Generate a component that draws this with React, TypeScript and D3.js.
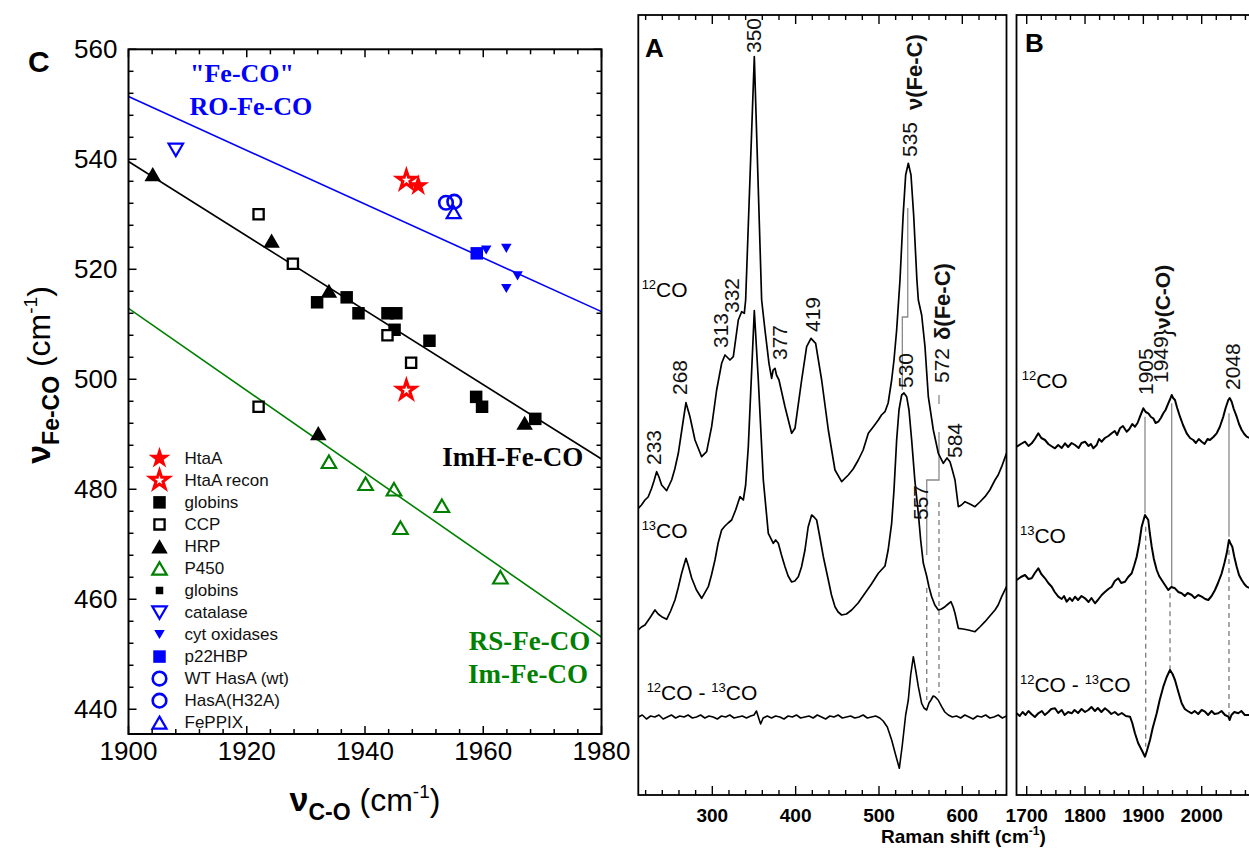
import React from 'react';
import * as d3 from 'd3';

type P = [number, number];

// ---------------- Panel C data (nu C-O, nu Fe-CO) ----------------
const htaA: P[] = [[1949.0, 535.2]];
const htaARecon: P[] = [[1947.0, 536.2], [1947.0, 498.0]];
const globins: P[] = [[1931.9, 514.0], [1936.9, 514.9], [1938.9, 512.0], [1943.8, 512.0], [1945.3, 512.0], [1945.0, 509.0], [1950.9, 507.0], [1958.8, 496.8], [1959.8, 495.0], [1968.8, 492.8]];
const ccp: P[] = [[1922.0, 530.0], [1927.8, 521.0], [1943.8, 508.0], [1922.0, 495.0], [1947.8, 503.0]];
const hrp: P[] = [[1904.1, 537.3], [1924.2, 525.2], [1933.9, 516.1], [1932.1, 490.2], [1967.0, 492.1]];
const p450: P[] = [[1933.9, 485.0], [1940.1, 481.0], [1944.9, 480.0], [1946.0, 473.0], [1953.0, 477.0], [1962.9, 464.0]];
const globinsSmall: P[] = [];
const catalase: P[] = [[1908.0, 541.7]];
const cytOx: P[] = [[1960.5, 523.5], [1963.9, 523.8], [1963.9, 516.5], [1965.8, 518.8]];
const p22hbp: P[] = [[1958.9, 522.9]];
const hasAwt: P[] = [[1953.7, 532.1]];
const hasAH32A: P[] = [[1955.1, 532.3]];
const fePPIX: P[] = [[1955.0, 530.4]];

const fitRO: P[] = [[1900, 551.4], [1980, 512.3]];
const fitImH: P[] = [[1900, 539.6], [1980, 485.5]];
const fitRS: P[] = [[1900, 512.9], [1980, 453.1]];

const cXTicks = [1900, 1920, 1940, 1960, 1980];
const cYTicks = [440, 460, 480, 500, 520, 540, 560];

// ---------------- Panel A spectra (Raman shift, intensity a.u.) ----------------
const a12CO: P[] = [[211.2,286.7],[215,290],[219.2,295],[223,298],[227.2,306.7],[230,314],[233.2,323.3],[236,318],[239.2,310],[245.2,304.3],[251.2,315],[255,326],[259.2,341.7],[265.2,375],[268.4,392.3],[273.2,378.3],[279.2,355],[287.2,338.3],[293.2,343.3],[299.2,368.3],[305.2,405],[311.2,431.7],[315.2,440],[321.2,435],[325.2,438.3],[331.2,475],[335.2,483.3],[338.4,481.7],[340,495],[350.4,738.3],[359.2,495],[363.2,465],[368,431.7],[371.2,416.7],[373,425],[375.2,426.7],[377,420],[380,415],[387.2,388.3],[395.2,361.7],[399.2,366.7],[407.2,415],[413.2,448.3],[418.4,456.7],[424,451.7],[431.2,415],[439.2,365],[447.2,325],[455.2,313.3],[463.2,320],[469,326],[475.2,335],[481,345],[487.2,361.7],[493,368],[499.2,375],[503,380],[507.2,383.3],[511,392],[515.2,415],[518,435],[521.2,465],[525.2,515],[529,580],[532,620],[535.2,631.7],[538.4,620],[541.6,580],[545.5,515],[547.2,495],[551.2,480],[555.2,448.3],[559.2,398.3],[565.2,365],[571.2,341.7],[577.2,331.7],[581.6,337],[585.2,333.3],[588,325],[591.2,315],[595.2,288.3],[599,290],[603.2,293.3],[609,291],[615.2,288.3],[621,293],[627.2,298.3],[633,305],[639.2,315],[643,320],[647.2,328.3],[653,341.7]];
const a13CO: P[] = [[211.2,165],[215,168],[219.2,170],[225,177],[231.2,185],[235,181],[239.2,178.3],[245.2,175.7],[250,184],[255.2,195],[259,207],[263.2,221.7],[268.4,236.7],[271,230],[275.2,217],[281,205],[287.2,196.7],[295.2,208.3],[299,220],[303.2,235],[307,252],[311.2,265],[315.2,269],[319,272],[323.2,275],[328,285],[333.2,298.3],[337.2,295],[340,310],[343.2,348.3],[350.4,484.3],[355.2,415],[361.2,315],[367.2,261.7],[373.2,251.7],[376,255],[379.2,251.7],[383,240],[387.2,228.3],[391,219],[395.2,213],[399,214],[403.2,218.3],[407,228],[411.2,245],[415,268],[419.2,280],[422,278],[425.2,275],[429,258],[433.2,238.3],[439.2,215],[443,200],[447.2,188.3],[451,183],[455.2,180],[461,181],[467.2,185],[475,192],[483.2,201.7],[491,211],[499.2,221.7],[507.2,229],[511,245],[515.2,271.7],[518,305],[521.2,355],[524,385],[527.2,400],[530,402],[533.2,398.3],[536,385],[539.2,355],[543,315],[547.2,281.7],[550,255],[553.2,231.7],[557.2,219],[560,208],[563.2,198.3],[567,190],[571.2,185],[575,186],[579.2,188.3],[583,191],[586.4,193.3],[589,188],[591.2,181.7],[595.2,166.7],[601,166],[607.2,165],[615.2,163.3],[621,168],[627.2,173.3],[633,179],[639.2,185],[643,190],[647.2,198.3],[653,208.3]];
const aDiff: P[] = [[211.2,78],[216,80],[221,76],[226,79],[231,78],[236,80],[241,76],[246,78],[251,80],[256,77],[261,79],[266,78],[271,80],[276,77],[281,78],[286,80],[291,77],[296,79],[301,78],[306,76],[311,79],[316,78],[321,80],[326,77],[331,78],[336,79],[341,77],[346,79],[350,80],[353,84],[356,76],[358,71],[361,77],[366,79],[371,77],[376,79],[381,78],[386,76],[391,79],[396,78],[401,80],[406,77],[411,78],[416,79],[421,77],[426,80],[431,78],[436,76],[441,79],[446,78],[451,80],[456,77],[461,78],[466,79],[471,77],[476,78],[481,80],[486,77],[491,78],[496,79],[501,77],[505,74],[510,68],[515.2,55],[520,40],[524.4,26.7],[528,50],[532,80],[535.2,95],[538,120],[541.2,138.3],[544,125],[547.2,108.3],[551.2,91.7],[554,87],[557.2,85],[560,92],[562.4,95],[565,99],[567.2,98.3],[571,95],[575.2,88.3],[579,83],[583.2,80],[588,78],[593,79],[598,77],[603,80],[608,78],[613,76],[618,79],[623,78],[628,80],[633,77],[638,78],[643,80],[648,77],[653,79]];

const aConn535: P[] = [[534.5, 587], [534.5, 478], [528, 478], [528, 405]];
const aConn572: P[] = [[572, 363], [572, 315], [557.3, 315], [557.3, 240]];
const aTick572: P[] = [[572, 400], [572, 391]];
const aDash557: P[] = [[557.3, 207], [557.3, 95]];
const aDash572: P[] = [[572, 293], [572, 102]];

const aXTicks = [300, 400, 500, 600];

const aPeakLabels = [
  { t: '233', x: 230, y: 330 },
  { t: '268', x: 261.2, y: 400 },
  { t: '313', x: 310.4, y: 447 },
  { t: '332', x: 323, y: 482 },
  { t: '350', x: 350, y: 742 },
  { t: '377', x: 381.2, y: 435 },
  { t: '419', x: 420.2, y: 463 },
  { t: '530', x: 531.8, y: 407 },
  { t: '535', x: 537.2, y: 638 },
  { t: '572', x: 575.6, y: 412 },
  { t: '584', x: 591.2, y: 337 },
  { t: '557', x: 549.5, y: 275 },
];

// ---------------- Panel B spectra ----------------
const b12CO: P[] = [[1682.9,348.3],[1690,351],[1697.1,353.3],[1703,349],[1708.6,351.7],[1714,356],[1719.9,361.7],[1725,357],[1731.4,355],[1737,351],[1742,349],[1748.5,346.7],[1754,350],[1760,347],[1765.7,351.7],[1771,348],[1777,352],[1782.8,350],[1789,347],[1794,352],[1800,353.3],[1806,349],[1810,351],[1814.2,346.7],[1820,350],[1824,356],[1828.6,353.3],[1834,357],[1840,359],[1845.7,361.7],[1851,364],[1855,360],[1859.9,366.7],[1865,369],[1871.4,363.3],[1876,366],[1881,371],[1885.6,368.3],[1890,372],[1894.2,378.3],[1899.9,386.7],[1904,383],[1908.5,381.7],[1913,378],[1917,376.7],[1921,372],[1925.6,373.3],[1930,377],[1934.2,381.7],[1938,385],[1942.7,391.7],[1946,396],[1948.6,400],[1951,397],[1954.2,395],[1958,387],[1962.8,378.3],[1968,370],[1974.3,361.7],[1980,357],[1985.6,355],[1990,352],[1995,356],[2000,353.3],[2005,351],[2010,356],[2014.2,355],[2020,358],[2025.7,361.7],[2031,368],[2037,378.3],[2041,387],[2045.6,395],[2048,397],[2051.4,393.3],[2055,386],[2060,378.3],[2064,371],[2068.6,365],[2073,361],[2077.1,358.3],[2082,357],[2090,355],[2103,354]];
const b13CO: P[] = [[1682.9,215],[1690,218],[1697.1,220],[1703,216],[1708.6,216.7],[1714,222],[1719.9,226.7],[1725,221],[1731.4,216.7],[1737,212],[1742.9,208.3],[1748,203],[1754.2,198.3],[1760,196],[1764,199],[1768.6,193.3],[1774,197],[1778,194],[1782.8,198.3],[1788,195],[1794,199],[1800,196.7],[1806,193],[1811,197],[1817.1,191.7],[1822,195],[1828.6,200],[1834,203],[1840,206],[1845.7,208.3],[1851,214],[1857,216.7],[1862,212],[1868.5,213.3],[1874,218],[1880,221.7],[1884,229],[1888.6,238.3],[1893,252],[1897.1,268.3],[1902.8,280],[1908.4,275],[1911,262],[1914.3,248.3],[1918,236],[1922.9,225],[1927,219],[1931.4,215],[1937,210],[1942.7,205],[1948,208],[1954.2,206.7],[1960,203],[1965.7,201.7],[1971,199],[1976,202],[1982.9,200],[1988,197],[1994,200],[2000,198.3],[2006,196],[2011.3,195],[2017,199],[2022.8,205],[2028,212],[2034.3,221.7],[2039,232],[2042.9,241.7],[2046.8,255],[2049,252],[2052.5,248.3],[2056,238],[2060,228.3],[2064,220],[2068.6,215],[2073,211],[2077.1,208.3],[2082,207],[2090,205],[2103,204]];
const bDiff: P[] = [[1682.9,81.7],[1688,79],[1693,83],[1698,80],[1703,84],[1708,81],[1714,78],[1719.9,81.7],[1726,84],[1731,80],[1737,83],[1742,86],[1748.5,86.7],[1754,82],[1760,85],[1765,80],[1771,83],[1777.1,81.7],[1782,85],[1788,82],[1794,86],[1800,83],[1805.6,85],[1811,88],[1817,84],[1822,87],[1828,83],[1834.2,86.7],[1840,84],[1845,81],[1851,83],[1857,80],[1863,82],[1870,79],[1877.1,78.3],[1881,72],[1885.6,61.7],[1891,52],[1897.1,45],[1902.8,38.3],[1906,44],[1911.4,55],[1916,67],[1922.9,81.7],[1928,95],[1934.2,108.3],[1940,118],[1945.7,125],[1950,121],[1954.2,115],[1960,103],[1965.7,91.7],[1971,86],[1976,84],[1982.9,81.7],[1988,84],[1994,81],[2000,85],[2005.7,83.3],[2011,80],[2017,84],[2022,81],[2028.5,81.7],[2034,84],[2040,80],[2045.6,78.3],[2048,75],[2051,80],[2056,83],[2062.7,81.7],[2068,84],[2074,80],[2081,80],[2090,82],[2103,81]];

const bSolid: P[][] = [
  [[1902.8, 378.3], [1902.8, 281.7]],
  [[1948.6, 391.7], [1948.6, 208.3]],
  [[2046.8, 381.7], [2046.8, 258.3]],
];
const bDash: P[][] = [
  [[1904, 268.3], [1904, 48.3]],
  [[1945.7, 201.7], [1945.7, 121.7]],
  [[2046.8, 245], [2046.8, 75]],
];
const bXTicks = [1700, 1800, 1900, 2000];
const bPeakLabels = [
  { t: '1905', x: 1904.2, y: 400 },
  { t: '1949', x: 1929.4, y: 412 },
  { t: '2048', x: 2052.8, y: 405 },
];

// ---------------- styles ----------------
const SANS = '"Liberation Sans", Arial, Helvetica, sans-serif';
const SERIF = '"Liberation Serif", "Times New Roman", serif';
const RED = '#ff0000';
const BLUE = '#0000ff';
const GREEN = '#008000';

type MS = { shape: string; s: number; fill: string; stroke?: string; sw?: number };
const seriesC: { label: string; data: P[]; m: MS }[] = [
  { label: 'HtaA', data: htaA, m: { shape: 'star', s: 11.5, fill: RED } },
  { label: 'HtaA recon', data: htaARecon, m: { shape: 'star', s: 9.6, fill: '#fff', stroke: RED, sw: 3 } },
  { label: 'globins', data: globins, m: { shape: 'square', s: 12.5, fill: '#000' } },
  { label: 'CCP', data: ccp, m: { shape: 'square', s: 10.2, fill: '#fff', stroke: '#000', sw: 2.3 } },
  { label: 'HRP', data: hrp, m: { shape: 'tri', s: 16.5, fill: '#000' } },
  { label: 'P450', data: p450, m: { shape: 'tri', s: 14.5, fill: 'none', stroke: GREEN, sw: 2.2 } },
  { label: 'globins', data: globinsSmall, m: { shape: 'square', s: 7.5, fill: '#000' } },
  { label: 'catalase', data: catalase, m: { shape: 'triDown', s: 14.5, fill: 'none', stroke: BLUE, sw: 2.2 } },
  { label: 'cyt oxidases', data: cytOx, m: { shape: 'triDown', s: 10.5, fill: BLUE } },
  { label: 'p22HBP', data: p22hbp, m: { shape: 'square', s: 12.5, fill: BLUE } },
  { label: 'WT HasA (wt)', data: hasAwt, m: { shape: 'circle', s: 6.8, fill: 'none', stroke: BLUE, sw: 2.6 } },
  { label: 'HasA(H32A)', data: hasAH32A, m: { shape: 'circle', s: 6.8, fill: 'none', stroke: BLUE, sw: 2.6 } },
  { label: 'FePPIX', data: fePPIX, m: { shape: 'tri', s: 14, fill: 'none', stroke: BLUE, sw: 2.2 } },
];

function markerPath(shape: string, s: number): string {
  switch (shape) {
    case 'star':
      return d3.symbol().type(d3.symbolStar).size((s * s) / 0.8908130915)() as string;
    case 'square':
      return `M${-s / 2},${-s / 2}H${s / 2}V${s / 2}H${-s / 2}Z`;
    case 'tri': {
      const h = s * 0.86;
      return `M0,${-h / 2}L${s / 2},${h / 2}L${-s / 2},${h / 2}Z`;
    }
    case 'triDown': {
      const h = s * 0.86;
      return `M0,${h / 2}L${s / 2},${-h / 2}L${-s / 2},${-h / 2}Z`;
    }
    default:
      return `M${s},0A${s},${s} 0 1,1 ${-s},0A${s},${s} 0 1,1 ${s},0Z`;
  }
}

// ---------------- geometry ----------------
const cL = 128.5, cR = 601.5, cT = 49.3, cB = 734;
const xC = d3.scaleLinear().domain([1900, 1980]).range([cL, cR]);
const yC = d3.scaleLinear().domain([435.5, 560]).range([cB, cT]);

const sT = 15, sB = 795;
const aL = 638.3, aR = 1006.5;
const xA = d3.scaleLinear().domain([211.2, 653]).range([aL, aR]);
const bL = 1016.5, bR = 1262;
const xB = d3.scaleLinear().domain([1682.5, 2103.4]).range([bL, bR]);
const yS = d3.scaleLinear().domain([0, 780]).range([sB, sT]);

function Iso({ x, y, big, small, sizeBig = 21, sizeSmall = 13 }: any) {
  return (
    <text x={x} y={y} fontFamily={SANS} fill="#000">
      <tspan fontSize={sizeSmall} dy={-8}>{small}</tspan>
      <tspan fontSize={sizeBig} dy={8}>{big}</tspan>
    </text>
  );
}

export default function App() {
  const lineC = d3.line<P>().x(d => xC(d[0])).y(d => yC(d[1]));
  const lineA = d3.line<P>().x(d => xA(d[0])).y(d => yS(d[1]));
  const lineB = d3.line<P>().x(d => xB(d[0])).y(d => yS(d[1]));

  const cxMinor = d3.range(1900, 1980.01, 4);
  const cyMinor = d3.range(440, 560.01, 4);
  const aMinor = d3.range(220, 653, 20);
  const bMinor = d3.range(1700, 2103, 25);

  const legX = cL + 31, legY0 = 458.3, legDy = 22.03;

  return (
    <svg width={1249} height={848} style={{ position: 'absolute', left: 0, top: 0, background: '#fff' }}>
      <defs>
        <clipPath id="clipC"><rect x={cL} y={cT} width={cR - cL} height={cB - cT} /></clipPath>
        <clipPath id="clipA"><rect x={aL} y={sT} width={aR - aL} height={sB - sT} /></clipPath>
        <clipPath id="clipB"><rect x={bL} y={sT} width={bR - bL} height={sB - sT} /></clipPath>
      </defs>
      <rect x={0} y={0} width={1249} height={848} fill="#fff" />

      {/* ================= Panel C ================= */}
      <g clipPath="url(#clipC)">
        <path d={lineC(fitRO) as string} stroke={BLUE} strokeWidth={1.6} fill="none" />
        <path d={lineC(fitImH) as string} stroke="#000" strokeWidth={1.6} fill="none" />
        <path d={lineC(fitRS) as string} stroke={GREEN} strokeWidth={1.6} fill="none" />
      </g>
      {seriesC.map((se, i) => (
        <g key={'s' + i}>
          {se.data.map((d, j) => (
            <path key={j} d={markerPath(se.m.shape, se.m.s)} transform={`translate(${xC(d[0])},${yC(d[1])})`}
              fill={se.m.fill} stroke={se.m.stroke || 'none'} strokeWidth={se.m.sw || 0} strokeLinejoin="miter" />
          ))}
        </g>
      ))}
      {/* legend */}
      {seriesC.map((se, i) => (
        <g key={'l' + i} transform={`translate(${legX},${legY0 + i * legDy})`}>
          <path d={markerPath(se.m.shape, se.m.s)} fill={se.m.fill} stroke={se.m.stroke || 'none'} strokeWidth={se.m.sw || 0} />
          <text x={25} y={0} dominantBaseline="central" fontFamily={SANS} fontSize={17} fill="#111">{se.label}</text>
        </g>
      ))}
      {/* frame & ticks */}
      <rect x={cL} y={cT} width={cR - cL} height={cB - cT} fill="none" stroke="#000" strokeWidth={2} />
      {cxMinor.map(v => {
        const len = v % 20 === 0 ? 8 : 5;
        return (
          <g key={'cx' + v}>
            <line x1={xC(v)} x2={xC(v)} y1={cB} y2={cB - len} stroke="#000" strokeWidth={1.5} />
            <line x1={xC(v)} x2={xC(v)} y1={cT} y2={cT + len} stroke="#000" strokeWidth={1.5} />
          </g>
        );
      })}
      {cyMinor.map(v => {
        const len = v % 20 === 0 ? 8 : 5;
        return (
          <g key={'cy' + v}>
            <line x1={cL} x2={cL + len} y1={yC(v)} y2={yC(v)} stroke="#000" strokeWidth={1.5} />
            <line x1={cR} x2={cR - len} y1={yC(v)} y2={yC(v)} stroke="#000" strokeWidth={1.5} />
          </g>
        );
      })}
      {cXTicks.map(v => (
        <text key={'cxl' + v} x={xC(v)} y={cB + 17} textAnchor="middle" dominantBaseline="central" fontFamily={SANS} fontSize={26} fill="#000">{v}</text>
      ))}
      {cYTicks.map(v => (
        <text key={'cyl' + v} x={cL - 11} y={yC(v)} textAnchor="end" dominantBaseline="central" fontFamily={SANS} fontSize={26} fill="#000">{v}</text>
      ))}
      {/* axis titles */}
      <text x={(cL + cR) / 2} y={811} textAnchor="middle" fontFamily={SANS} fill="#000">
        <tspan fontSize={34} fontWeight="bold">ν</tspan>
        <tspan fontSize={23} fontWeight="bold" dy={9}>C-O</tspan>
        <tspan fontSize={32} dy={-9}> (cm</tspan>
        <tspan fontSize={19} dy={-13}>-1</tspan>
        <tspan fontSize={32} dy={13}>)</tspan>
      </text>
      <text transform={`translate(50, 375) rotate(-90)`} textAnchor="middle" fontFamily={SANS} fill="#000">
        <tspan fontSize={34} fontWeight="bold">ν</tspan>
        <tspan fontSize={23} fontWeight="bold" dy={9}>Fe-CO</tspan>
        <tspan fontSize={32} dy={-9}> (cm</tspan>
        <tspan fontSize={19} dy={-13}>-1</tspan>
        <tspan fontSize={32} dy={13}>)</tspan>
      </text>
      <text x={28} y={72} fontFamily={SANS} fontWeight="bold" fontSize={30} fill="#000">C</text>
      {/* in-plot annotations */}
      <text x={xC(1919.2)} y={yC(554.05)} textAnchor="middle" fontFamily={SERIF} fontWeight="bold" fontSize={26} fill={BLUE}>"Fe-CO"</text>
      <text x={xC(1920.7)} y={yC(548.0)} textAnchor="middle" fontFamily={SERIF} fontWeight="bold" fontSize={26} fill={BLUE}>RO-Fe-CO</text>
      <text x={xC(1976.9)} y={yC(484.2)} textAnchor="end" fontFamily={SERIF} fontWeight="bold" fontSize={27} fill="#000">ImH-Fe-CO</text>
      <text x={xC(1978.1)} y={yC(450.8)} textAnchor="end" fontFamily={SERIF} fontWeight="bold" fontSize={27} fill={GREEN}>RS-Fe-CO</text>
      <text x={xC(1977.7)} y={yC(444.8)} textAnchor="end" fontFamily={SERIF} fontWeight="bold" fontSize={27} fill={GREEN}>Im-Fe-CO</text>

      {/* ================= Panel A ================= */}
      <g clipPath="url(#clipA)">
        <path d={lineA(aConn535) as string} stroke="#8a8a8a" strokeWidth={1.3} fill="none" />
        <path d={lineA(aConn572) as string} stroke="#8a8a8a" strokeWidth={1.3} fill="none" />
        <path d={lineA(aTick572) as string} stroke="#8a8a8a" strokeWidth={1.3} fill="none" />
        <path d={lineA(aDash557) as string} stroke="#7a7a7a" strokeWidth={1.3} strokeDasharray="5,4" fill="none" />
        <path d={lineA(aDash572) as string} stroke="#7a7a7a" strokeWidth={1.3} strokeDasharray="5,4" fill="none" />
        <path d={lineA(a12CO) as string} stroke="#000" strokeWidth={1.7} fill="none" strokeLinejoin="round" />
        <path d={lineA(a13CO) as string} stroke="#000" strokeWidth={1.7} fill="none" strokeLinejoin="round" />
        <path d={lineA(aDiff) as string} stroke="#000" strokeWidth={1.6} fill="none" strokeLinejoin="round" />
      </g>
      <rect x={aL} y={sT} width={aR - aL} height={sB - sT} fill="none" stroke="#000" strokeWidth={1.8} />
      {aMinor.map(v => {
        const len = v % 100 === 0 ? 9 : 5;
        return (
          <g key={'ax' + v}>
            <line x1={xA(v)} x2={xA(v)} y1={sB} y2={sB - len} stroke="#000" strokeWidth={1.4} />
            <line x1={xA(v)} x2={xA(v)} y1={sT} y2={sT + len} stroke="#000" strokeWidth={1.4} />
          </g>
        );
      })}
      {aXTicks.map(v => (
        <text key={'axl' + v} x={xA(v)} y={815} textAnchor="middle" dominantBaseline="central" fontFamily={SANS} fontWeight="bold" fontSize={19} fill="#000">{v}</text>
      ))}
      <text x={xA(219.2)} y={yS(738)} fontFamily={SANS} fontWeight="bold" fontSize={26} fill="#000">A</text>
      <Iso x={xA(215.2)} y={yS(498)} small="12" big="CO" />
      <Iso x={xA(215.2)} y={yS(257)} small="13" big="CO" />
      <text x={xA(221.2)} y={yS(95)} fontFamily={SANS} fill="#000">
        <tspan fontSize={13} dy={-8}>12</tspan>
        <tspan fontSize={21} dy={8}>CO - </tspan>
        <tspan fontSize={13} dy={-8}>13</tspan>
        <tspan fontSize={21} dy={8}>CO</tspan>
      </text>
      {aPeakLabels.map((p, i) => (
        <text key={'ap' + i} transform={`translate(${xA(p.x)},${yS(p.y)}) rotate(-90)`} dominantBaseline="central"
          fontFamily={SANS} fontSize={21} fill="#111">{p.t}</text>
      ))}
      <text transform={`translate(${xA(542.2)},${yS(685)}) rotate(-90)`} dominantBaseline="central"
        fontFamily={SANS} fontWeight="bold" fontSize={22} fill="#111">ν(Fe-C)</text>
      <text transform={`translate(${xA(576.4)},${yS(455)}) rotate(-90)`} dominantBaseline="central"
        fontFamily={SANS} fontWeight="bold" fontSize={22} fill="#111">δ(Fe-C)</text>

      {/* ================= Panel B ================= */}
      <g clipPath="url(#clipB)">
        {bSolid.map((s, i) => <path key={'bs' + i} d={lineB(s) as string} stroke="#8a8a8a" strokeWidth={1.3} fill="none" />)}
        {bDash.map((s, i) => <path key={'bd' + i} d={lineB(s) as string} stroke="#7a7a7a" strokeWidth={1.3} strokeDasharray="5,4" fill="none" />)}
        <path d={lineB(b12CO) as string} stroke="#000" strokeWidth={2} fill="none" strokeLinejoin="round" />
        <path d={lineB(b13CO) as string} stroke="#000" strokeWidth={2} fill="none" strokeLinejoin="round" />
        <path d={lineB(bDiff) as string} stroke="#000" strokeWidth={2} fill="none" strokeLinejoin="round" />
      </g>
      <rect x={bL} y={sT} width={bR - bL} height={sB - sT} fill="none" stroke="#000" strokeWidth={1.8} />
      {bMinor.map(v => {
        const len = v % 100 === 0 ? 9 : 5;
        return (
          <g key={'bx' + v}>
            <line x1={xB(v)} x2={xB(v)} y1={sB} y2={sB - len} stroke="#000" strokeWidth={1.4} />
            <line x1={xB(v)} x2={xB(v)} y1={sT} y2={sT + len} stroke="#000" strokeWidth={1.4} />
          </g>
        );
      })}
      {bXTicks.map(v => (
        <text key={'bxl' + v} x={xB(v)} y={815} textAnchor="middle" dominantBaseline="central" fontFamily={SANS} fontWeight="bold" fontSize={19} fill="#000">{v}</text>
      ))}
      <text x={xB(1697)} y={yS(743)} fontFamily={SANS} fontWeight="bold" fontSize={26} fill="#000">B</text>
      <Iso x={xB(1691.4)} y={yS(407)} small="12" big="CO" />
      <Iso x={xB(1688.5)} y={yS(252)} small="13" big="CO" />
      <text x={xB(1688.5)} y={yS(103.3)} fontFamily={SANS} fill="#000">
        <tspan fontSize={13} dy={-8}>12</tspan>
        <tspan fontSize={21} dy={8}>CO - </tspan>
        <tspan fontSize={13} dy={-8}>13</tspan>
        <tspan fontSize={21} dy={8}>CO</tspan>
      </text>
      {bPeakLabels.map((p, i) => (
        <text key={'bp' + i} transform={`translate(${xB(p.x)},${yS(p.y)}) rotate(-90)`} dominantBaseline="central"
          fontFamily={SANS} fontSize={21} fill="#111">{p.t}</text>
      ))}
      <text transform={`translate(${xB(1931.4)},${yS(458)}) rotate(-90)`} dominantBaseline="central"
        fontFamily={SANS} fill="#111">
        <tspan fontSize={24}>{'}'}</tspan>
        <tspan fontSize={21} fontWeight="bold">ν(C-O)</tspan>
      </text>

      {/* shared x title */}
      <text x={881} y={843} fontFamily={SANS} fontWeight="bold" fill="#000">
        <tspan fontSize={19}>Raman shift (cm</tspan>
        <tspan fontSize={12} dy={-8}>-1</tspan>
        <tspan fontSize={19} dy={8}>)</tspan>
      </text>
    </svg>
  );
}
